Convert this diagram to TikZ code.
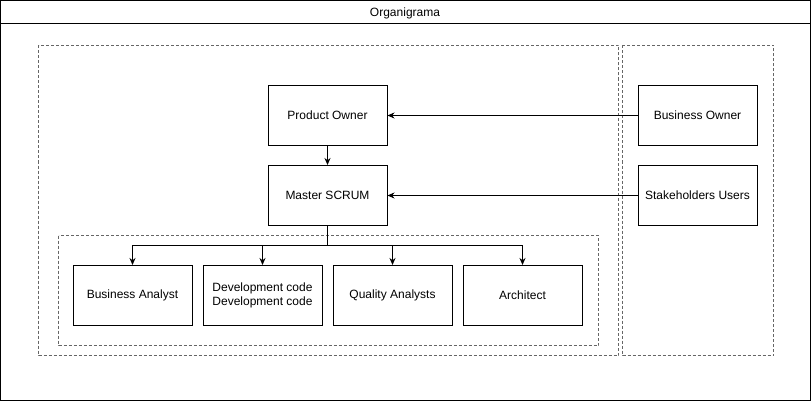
\documentclass[tikz,border=0pt]{standalone}
\usepackage{fontspec}
\setmainfont{Liberation Sans}
\usetikzlibrary{arrows.meta}
\begin{document}
\begin{tikzpicture}[x=1pt,y=-1pt,
  every node/.style={font=\fontsize{12}{14}\selectfont},
  boxnode/.style={draw,line width=1pt,minimum width=119pt,minimum height=60pt,inner sep=0pt,align=center},
  grp/.style={draw=black!60,dashed,dash pattern=on 3pt off 2pt,line width=1pt},
  conn/.style={line width=1pt,-{Stealth[length=7pt,width=6pt]}}]
\useasboundingbox (0,0) rectangle (811,401);
\draw[line width=1pt] (0.5,0.5) rectangle (810.5,400.5);
\draw[line width=1pt] (0.5,23.5) -- (810.5,23.5);
\node (title) at (405,13) {Organigrama};
\draw[grp] (38.5,45.5) rectangle (618.5,355.5);
\draw[grp] (622.5,45.5) rectangle (773.5,355.5);
\draw[grp] (58.5,235.5) rectangle (598.5,345.5);
\node[boxnode] (po) at (327.5,115.5) {Product Owner};
\node[boxnode] (ms) at (327.5,195.5) {Master SCRUM};
\node[boxnode] (bo) at (697.5,115.5) {Business Owner};
\node[boxnode] (su) at (697.5,195.5) {Stakeholders Users};
\node[boxnode] (ba) at (132.5,295.5) {Business Analyst};
\node[boxnode] (dev) at (262.5,295.5) {Development code\\Development code};
\node[boxnode] (qa) at (392.5,295.5) {Quality Analysts};
\node[boxnode] (ar) at (522.5,295.5) {Architect};
\coordinate (br) at (327.5,245.5);
\draw[conn] (po) -- (ms);
\draw[conn] (bo) -- (po);
\draw[conn] (su) -- (ms);
\draw[line width=1pt] (ms.south) -- (br);
\foreach \t in {ba,dev,qa,ar}{\draw[conn] (br) -| (\t.north);}
\end{tikzpicture}
\end{document}
